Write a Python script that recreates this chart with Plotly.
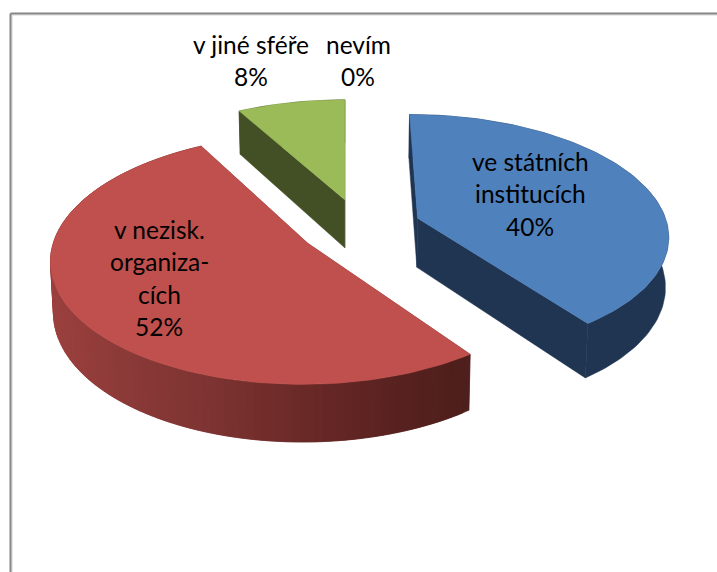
import numpy as np
import plotly.graph_objects as go

# ---- data ----
categories = ["ve státních institucích", "v nezisk. organiza-cích", "v jiné sféře", "nevím"]
values = [40, 52, 8, 0]
label_lines = [["ve státních", "institucích"], ["v nezisk.", "organiza-", "cích"], ["v jiné sféře"], ["nevím"]]

# ---- style ----
top_colors = ["#4f81bd", "#c0504d", "#9bbb59", "#8064a2"]
side_colors = ["#1f3552", "#7a2e2c", "#434f25", "#3f3151"]
label_anchor = [(530, 161), (159, 229), (251, 44), (358, 44)]
LINE_H = 32.5
FONT = "Lato"
FONT_SIZE = 24.5

# projection of the pie disc (unit radius) to the page
VX, VY, A, B, K = 345.0, 219.0, 248.0, 117.0, 0.125
CENTER = (0.06, -0.07)
EXPLODE = 0.245
DEPTH = 49.0
SHRINK = 0.99


def project(x, y, lower=False):
    x, y = np.asarray(x, float), np.asarray(y, float)
    s = 1 / (1 + K * y)
    px = VX + A * x * s
    py = VY - B * y * s
    if lower:
        px = VX + (px - VX) * SHRINK
        py = py + DEPTH * s
    return px, py


def lerp_red(px):
    xs = [50, 130, 200, 300, 400, 465]
    rs = [0x9c, 0x8a, 0x7f, 0x6b, 0x58, 0x4e]
    gs = [0x41, 0x3a, 0x35, 0x2a, 0x22, 0x1f]
    bs = [0x3f, 0x38, 0x33, 0x28, 0x20, 0x1c]
    return "rgb(%d,%d,%d)" % tuple(np.interp(px, xs, c) for c in (rs, gs, bs))


fig = go.Figure()


def poly(px, py, color):
    fig.add_trace(go.Scatter(
        x=list(px) + [px[0]], y=list(py) + [py[0]], mode="lines", fill="toself",
        fillcolor=color, line=dict(color=color, width=0.5),
        hoverinfo="skip", showlegend=False))


total = sum(values)
start = 0.0
slices = []
for i, v in enumerate(values):
    sweep = 360.0 * v / total
    slices.append((i, start, sweep))
    start += sweep

for i, a0, sweep in slices:
    if sweep == 0:
        continue
    mid = np.radians(a0 + sweep / 2)
    gx = CENTER[0] + EXPLODE * np.sin(mid)
    gy = CENTER[1] + EXPLODE * np.cos(mid)
    th = np.radians(np.linspace(a0, a0 + sweep, max(int(sweep / 1.5), 8)))
    rx, ry = gx + np.sin(th), gy + np.cos(th)

    # cut faces
    for k in (0, -1):
        tx, ty = project([gx, rx[k]], [gy, ry[k]])
        bx, by = project([gx, rx[k]], [gy, ry[k]], lower=True)
        poly(list(tx) + list(bx[::-1]), list(ty) + list(by[::-1]), side_colors[i])

    # outer wall: flat, or overlapping strips painted from the far end so no seams show
    tx, ty = project(rx, ry)
    bx, by = project(rx, ry, lower=True)
    if i == 1:
        for j in range(len(th) - 1):
            end = min(j + 3, len(th))
            col = lerp_red((tx[j] + tx[j + 1]) / 2)
            poly(list(tx[j:end]) + list(bx[j:end][::-1]), list(ty[j:end]) + list(by[j:end][::-1]), col)
    else:
        poly(list(tx) + list(bx[::-1]), list(ty) + list(by[::-1]), side_colors[i])

    # top surface
    ax, ay = project([gx], [gy])
    poly([ax[0]] + list(tx), [ay[0]] + list(ty), top_colors[i])

# labels
for i, v in enumerate(values):
    lines = label_lines[i] + [f"{v}%"]
    x0, y0 = label_anchor[i]
    for n, text in enumerate(lines):
        fig.add_annotation(x=x0, y=y0 + n * LINE_H, text=text, showarrow=False,
                           xanchor="center", yanchor="middle",
                           font=dict(family=FONT, size=FONT_SIZE, color="#000000"))

# frame: only the top and left lines are visible
for col, w, off in (("#d4d4d4", 1, 1.5), ("#868686", 2, 0)):
    fig.add_shape(type="line", x0=10.5 + off, x1=717, y0=13.5 + off, y1=13.5 + off, line=dict(color=col, width=w), layer="below")
    fig.add_shape(type="line", x0=10.5 + off, x1=10.5 + off, y0=13.5 + off, y1=572, line=dict(color=col, width=w), layer="below")

fig.update_layout(
    width=717, height=572, margin=dict(l=0, r=0, t=0, b=0),
    paper_bgcolor="white", plot_bgcolor="white",
    xaxis=dict(range=[0, 717], visible=False, fixedrange=True),
    yaxis=dict(range=[572, 0], visible=False, fixedrange=True),
)
fig.write_html("out.html", config={"displayModeBar": False},
               post_script="document.body.style.margin='0';document.body.style.overflow='hidden';")
